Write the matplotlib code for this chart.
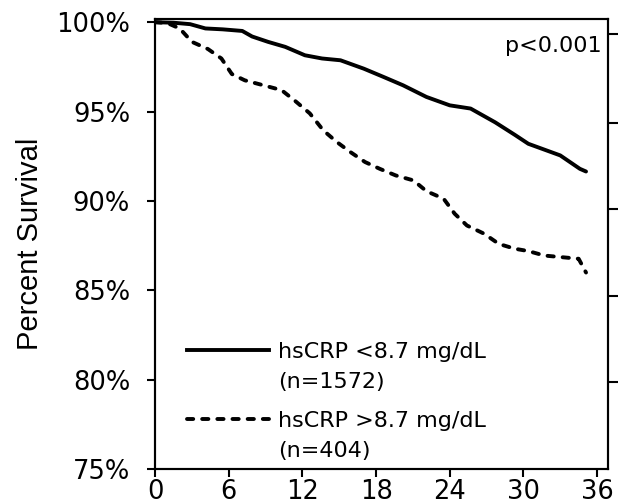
import numpy as np
import matplotlib
matplotlib.use("Agg")
import matplotlib.pyplot as plt
from matplotlib.lines import Line2D

plt.rcParams["font.family"] = "DejaVu Sans"
plt.rcParams["axes.linewidth"] = 1.5

# months of follow-up / survival (%)
months_low = [0, 1.5, 2.85, 4.1, 5.5, 7.1, 7.9, 9.2, 10.6, 12.2, 13.6, 15.1, 17.0,
              18.6, 20.2, 22.1, 24.0, 25.7, 27.7, 29.3, 30.4, 33.0, 34.6, 35.1]
surv_low = [100, 99.97, 99.89, 99.65, 99.6, 99.51, 99.2, 98.9, 98.62, 98.15, 97.97,
            97.87, 97.4, 96.94, 96.47, 95.82, 95.35, 95.17, 94.4, 93.7, 93.2, 92.55,
            91.8, 91.65]

months_high = [0, 1.0, 2.0, 3.0, 4.3, 5.4, 6.25, 7.3, 10.3, 11.4, 12.6, 13.7, 14.8,
               15.9, 17.1, 18.3, 19.6, 21.05, 22.1, 23.5, 24.4, 25.4, 26.8, 28.0,
               29.3, 30.4, 31.7, 34.5, 35.1]
surv_high = [100, 99.95, 99.65, 98.9, 98.5, 97.97, 97.1, 96.75, 96.2, 95.6, 94.9,
             93.95, 93.3, 92.74, 92.18, 91.8, 91.43, 91.15, 90.55, 90.13, 89.29,
             88.63, 88.17, 87.6, 87.33, 87.2, 86.95, 86.77, 86.0]

labels_low = ["hsCRP <8.7 mg/dL", "(n=1572)"]
labels_high = ["hsCRP >8.7 mg/dL", "(n=404)"]

x_ticks = [0, 6, 12, 18, 24, 30, 36]
y_ticks = [75, 80, 85, 90, 95, 100]
right_ticks = [99.33, 94.35, 89.53, 84.71, 79.9]

fig = plt.figure(figsize=(6.18, 5.04), dpi=100)
ax = fig.add_axes([0.251, 0.069, 0.733, 0.893])

dash = (0, (1.6, 2.3))
ax.plot(months_low, surv_low, "-", color="k", lw=2.8, solid_capstyle="round")
ax.plot(months_high, surv_high, color="k", lw=2.8, linestyle=dash,
        dash_capstyle="round")

ax.set_xlim(0, 36.9)
ax.set_ylim(75, 100.17)
ax.set_xticks(x_ticks)
ax.set_xticklabels([str(t) for t in x_ticks])
ax.set_yticks(y_ticks)
ax.set_yticklabels(["%d%%" % t for t in y_ticks])
ax.tick_params(axis="both", direction="out", length=6, width=1.5,
               labelsize=18.5, colors="k")
ax.tick_params(axis="y", pad=12)
ax.tick_params(axis="x", pad=1)

ax.set_ylabel("Percent Survival", fontsize=21, family="Liberation Sans",
              labelpad=9)

ax2 = ax.twinx()
ax2.set_ylim(75, 100.17)
ax2.set_yticks(right_ticks)
ax2.set_yticklabels([])
ax2.tick_params(axis="y", direction="out", length=8, width=1.5)

ax.text(0.985, 0.94, "p<0.001", transform=ax.transAxes, ha="right", va="center",
        fontsize=16)

blank = Line2D([], [], color="none")
leg_kw = dict(loc="upper left", frameon=False, fontsize=16, handlelength=3.7,
              handletextpad=0.4, labelspacing=0.45, borderpad=0, borderaxespad=0)
leg1 = ax.legend([Line2D([], [], color="k", lw=2.8), blank], labels_low,
                 bbox_to_anchor=(0.07, 0.283), **leg_kw)
ax.add_artist(leg1)
leg2 = ax.legend([Line2D([], [], color="k", lw=2.8, linestyle=dash,
                         dash_capstyle="round"), blank], labels_high,
                 bbox_to_anchor=(0.07, 0.13), **leg_kw)

fig.savefig("out.png", dpi=100)
